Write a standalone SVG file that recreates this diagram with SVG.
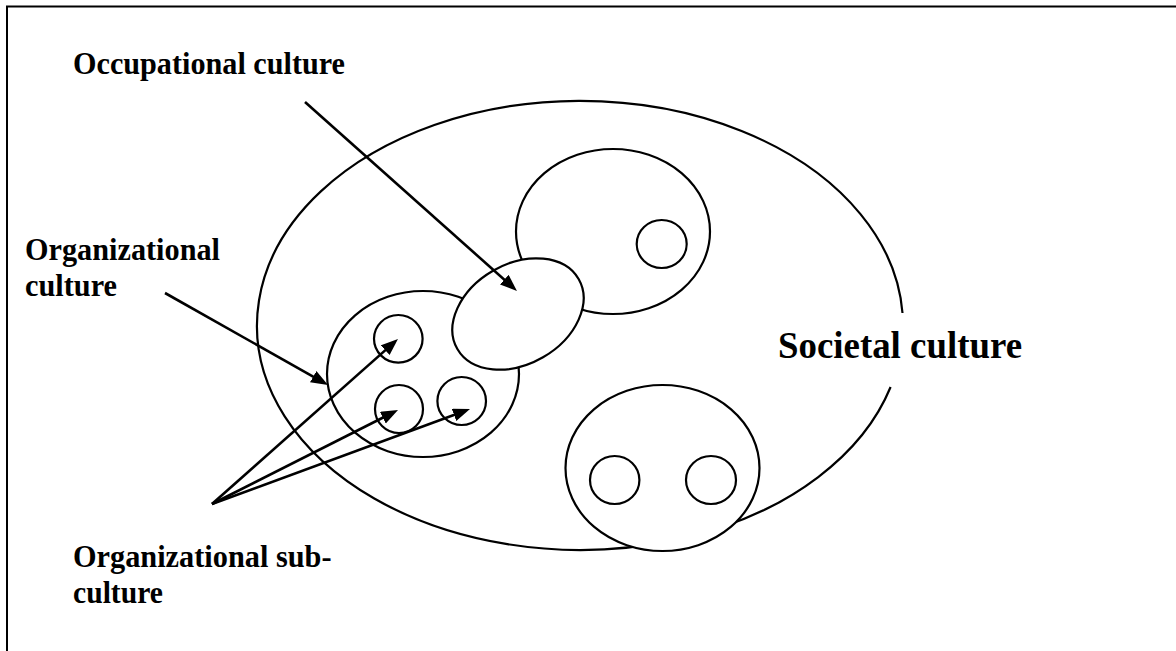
<svg xmlns="http://www.w3.org/2000/svg" width="1176" height="651" viewBox="0 0 1176 651">
<style>
.bg{fill:#ffffff}
.frame{fill:none;stroke:#000;stroke-width:2}
.ring{fill:none;stroke:#000;stroke-width:2.2}
.solid{fill:#ffffff;stroke:#000;stroke-width:2.2}
.arrow{fill:none;stroke:#000;stroke-width:2.6;marker-end:url(#head)}
.lbl{font-family:"Liberation Serif","Times New Roman",serif;font-weight:bold;font-size:32px;fill:#000}
.big{font-size:38px}
</style>
<defs>
<marker id="head" markerUnits="userSpaceOnUse" markerWidth="18" markerHeight="14" refX="7" refY="6.5" orient="auto">
<path d="M0,0 L17,6.5 L0,13 z" fill="#000"/>
</marker>
</defs>
<rect class="bg" x="0" y="0" width="1176" height="651"/>
<path class="frame" d="M7,651 V6.5 H1176"/>

<g id="societal-culture">
<path class="ring" d="M902.5,313 A323,224.5 0 1 0 890.6,387"/>
<text class="lbl big" x="778" y="358.3" textLength="244" lengthAdjust="spacingAndGlyphs">Societal culture</text>
</g>

<g id="organizational-culture-ellipse">
<ellipse class="ring" cx="423" cy="374" rx="96" ry="83"/>
</g>

<g id="other-organization-top">
<ellipse class="ring" cx="613" cy="231.5" rx="97" ry="82.5"/>
<ellipse class="ring" cx="661.7" cy="244" rx="25" ry="24"/>
</g>

<g id="other-organization-bottom">
<ellipse class="solid" cx="662.5" cy="468" rx="97" ry="83"/>
<ellipse class="ring" cx="614.7" cy="480" rx="24.7" ry="24"/>
<ellipse class="ring" cx="711" cy="480" rx="25" ry="24"/>
</g>

<g id="occupational-culture-ellipse">
<ellipse class="solid" cx="518" cy="314" rx="70" ry="50" transform="rotate(-30 518 314)"/>
</g>

<g id="subcultures">
<ellipse class="ring" cx="398.3" cy="338.8" rx="24.3" ry="23.8"/>
<ellipse class="ring" cx="399" cy="409" rx="24" ry="24"/>
<ellipse class="ring" cx="461.7" cy="401" rx="24.3" ry="24"/>
</g>

<g id="label-occupational">
<text class="lbl" x="73" y="73.5" textLength="272" lengthAdjust="spacingAndGlyphs">Occupational culture</text>
</g>
<g id="label-organizational">
<text class="lbl" x="25" y="260" textLength="195" lengthAdjust="spacingAndGlyphs">Organizational</text>
<text class="lbl" x="25" y="296" textLength="92" lengthAdjust="spacingAndGlyphs">culture</text>
</g>
<g id="label-subculture">
<text class="lbl" x="73" y="566.5" textLength="258.5" lengthAdjust="spacingAndGlyphs">Organizational sub-</text>
<text class="lbl" x="73" y="602.5" textLength="90" lengthAdjust="spacingAndGlyphs">culture</text>
</g>

<g id="connectors">
<line class="arrow" x1="305" y1="102" x2="509.5" y2="284.3"/>
<line class="arrow" x1="165" y1="293" x2="319.3" y2="380.1"/>
<line class="arrow" x1="212" y1="504" x2="390.5" y2="345.6"/>
<line class="arrow" x1="212" y1="504" x2="389.1" y2="414.5"/>
<line class="arrow" x1="212" y1="504" x2="460.6" y2="412.5"/>
</g>
</svg>
